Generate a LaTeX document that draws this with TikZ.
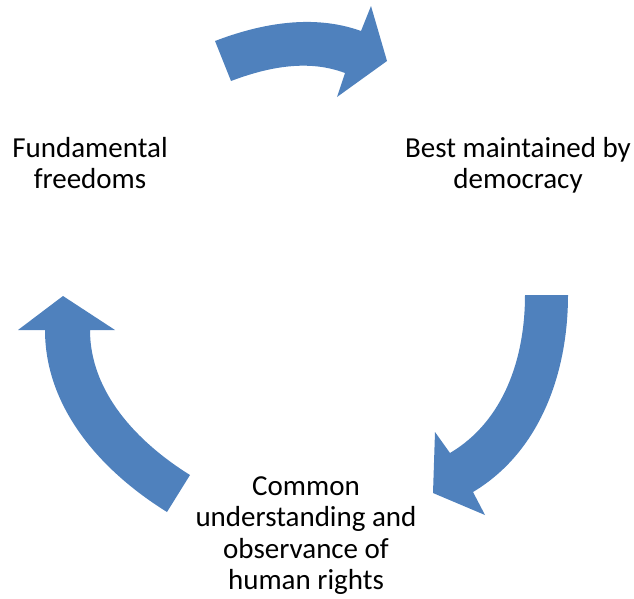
\documentclass[tikz,border=0pt]{standalone}
\usepackage{fontspec}
\setmainfont{Carlito}
\usepackage{tikz}
\definecolor{arrowblue}{HTML}{4F81BD}

\begin{document}
\begin{tikzpicture}[x=1pt,y=-1pt]
\tikzstyle{every node}+=[inner sep=0pt]
\tikzstyle{label}=[anchor=north,align=center,font=\fontsize{29}{31.5}\selectfont]
\tikzstyle{blockarrow}=[fill=arrowblue,draw=none]
\useasboundingbox (0,0) rectangle (634,598);
\node [label] (free) at (90,137) {Fundamental\\freedoms};
\node [label] (demo) at (518,137) {Best maintained by\\democracy};
\node [label] (rights) at (306,476) {Common\\understanding and\\observance of\\human rights};
\fill [blockarrow] (215,41) .. controls (262,23) and (314,14) .. (361,31)
  -- (371,6) -- (387,61) -- (337,97) -- (345,73)
  .. controls (308,59) and (268,67) .. (231,81) -- cycle;
\fill [blockarrow] (525,295) -- (568,295) .. controls (568,373) and (540,452) .. (473,492)
  -- (485,515) -- (433,493) -- (435,432) -- (450,453)
  .. controls (504,421) and (525,358) .. (525,295) -- cycle;
\fill [blockarrow] (190,475) -- (167,512) .. controls (101,471) and (45,408) .. (45,330)
  -- (18,330) -- (63,296) -- (115,330) -- (90,330)
  .. controls (90,392) and (137,442) .. (190,475) -- cycle;
\end{tikzpicture}
\end{document}
